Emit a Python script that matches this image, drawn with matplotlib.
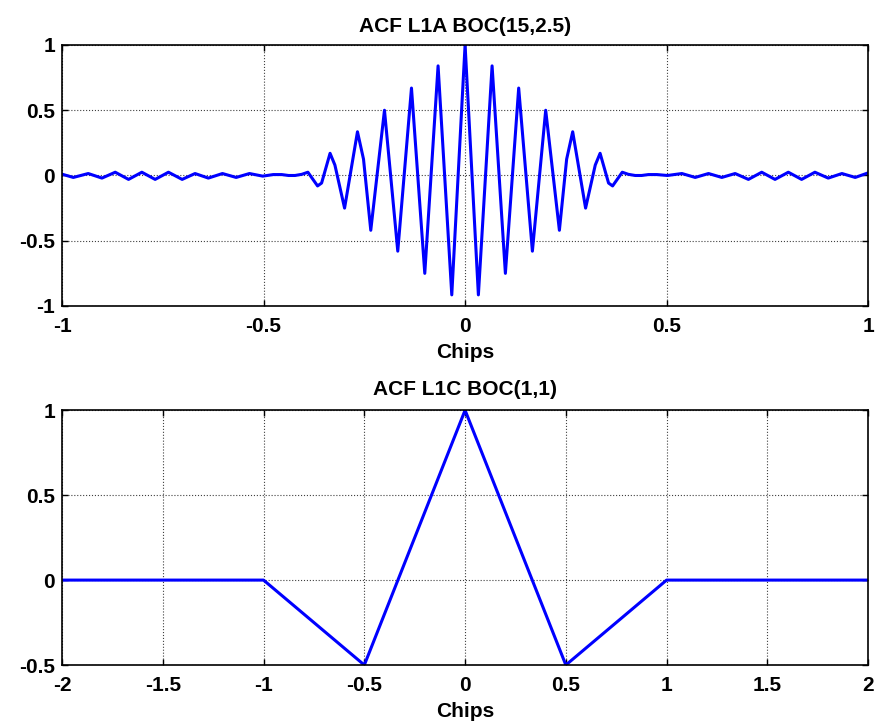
import matplotlib
matplotlib.use('Agg')
import matplotlib.pyplot as plt
import numpy as np

plt.rcParams['font.family'] = ['Liberation Sans', 'DejaVu Sans']
plt.rcParams['font.weight'] = 'bold'

# ACF L1A BOC(15,2.5)
l1a_x = [-1.000, -0.972, -0.935, -0.901, -0.868, -0.835, -0.802, -0.769, -0.736, -0.702,
         -0.670, -0.637, -0.602, -0.568, -0.535, -0.502, -0.476, -0.455, -0.438, -0.422,
         -0.405, -0.390, -0.366, -0.356, -0.335, -0.323, -0.299, -0.267, -0.252, -0.234,
         -0.200, -0.167, -0.133, -0.100, -0.067, -0.033, 0.000,
         0.033, 0.067, 0.100, 0.133, 0.167, 0.200, 0.234, 0.252, 0.267,
         0.299, 0.323, 0.335, 0.356, 0.366, 0.390, 0.405, 0.422, 0.438, 0.455,
         0.476, 0.502, 0.538, 0.571, 0.604, 0.637, 0.670, 0.703, 0.736, 0.769,
         0.802, 0.835, 0.868, 0.901, 0.935, 0.968, 1.000]
l1a_y = [0.010, -0.015, 0.015, -0.020, 0.025, -0.030, 0.025, -0.030, 0.025, -0.030,
         0.015, -0.020, 0.015, -0.015, 0.015, -0.005, 0.007, 0.007, 0.000, 0.000,
         0.009, 0.025, -0.080, -0.058, 0.170, 0.080, -0.250, 0.335, 0.125, -0.420,
         0.500, -0.580, 0.670, -0.750, 0.840, -0.915, 1.000,
         -0.915, 0.840, -0.750, 0.670, -0.580, 0.500, -0.420, 0.125, 0.335,
         -0.250, 0.080, 0.170, -0.058, -0.080, 0.025, 0.009, 0.000, 0.000, 0.007,
         0.007, 0.000, 0.015, -0.015, 0.015, -0.015, 0.015, -0.030, 0.025, -0.030,
         0.025, -0.030, 0.025, -0.020, 0.015, -0.015, 0.020]

# ACF L1C BOC(1,1)
l1c_x = [-2.0, -1.0, -0.5, 0.0, 0.5, 1.0, 2.0]
l1c_y = [0.0, 0.0, -0.5, 1.0, -0.5, 0.0, 0.0]

fig = plt.figure(figsize=(8.8, 7.28), dpi=100)
ax1 = fig.add_axes([0.0705, 0.5797, 0.916, 0.3585])
ax2 = fig.add_axes([0.0705, 0.0865, 0.916, 0.350])


def style(ax, title, xt, yt, xl, yl, tpad):
    ax.set_title(title, fontsize=15, fontweight='bold', pad=tpad)
    ax.set_xlabel('Chips', fontsize=15, fontweight='bold', labelpad=5)
    ax.set_xlim(xl)
    ax.set_ylim(yl)
    ax.set_xticks(xt)
    ax.set_yticks(yt)
    ax.set_xticklabels([('%g' % v) for v in xt])
    ax.set_yticklabels([('%g' % v) for v in yt])
    ax.tick_params(direction='in', top=True, right=True, length=4, width=1,
                   labelsize=15)
    ax.tick_params(axis='x', pad=8)
    ax.tick_params(axis='y', pad=5)
    for lab in ax.get_xticklabels() + ax.get_yticklabels():
        lab.set_fontweight('bold')
    ax.grid(True, linestyle=':', color='0.25', linewidth=0.8)
    for s in ax.spines.values():
        s.set_linewidth(1.2)


ax1.plot(l1a_x, l1a_y, color='#0000ff', linewidth=2.2)
style(ax1, 'ACF L1A BOC(15,2.5)', [-1, -0.5, 0, 0.5, 1], [-1, -0.5, 0, 0.5, 1],
      (-1, 1), (-1, 1), 9)

ax2.plot(l1c_x, l1c_y, color='#0000ff', linewidth=2.2)
style(ax2, 'ACF L1C BOC(1,1)', list(np.arange(-2, 2.01, 0.5)), [-0.5, 0, 0.5, 1],
      (-2, 2), (-0.5, 1), 11)

fig.savefig('out.png', dpi=100)
